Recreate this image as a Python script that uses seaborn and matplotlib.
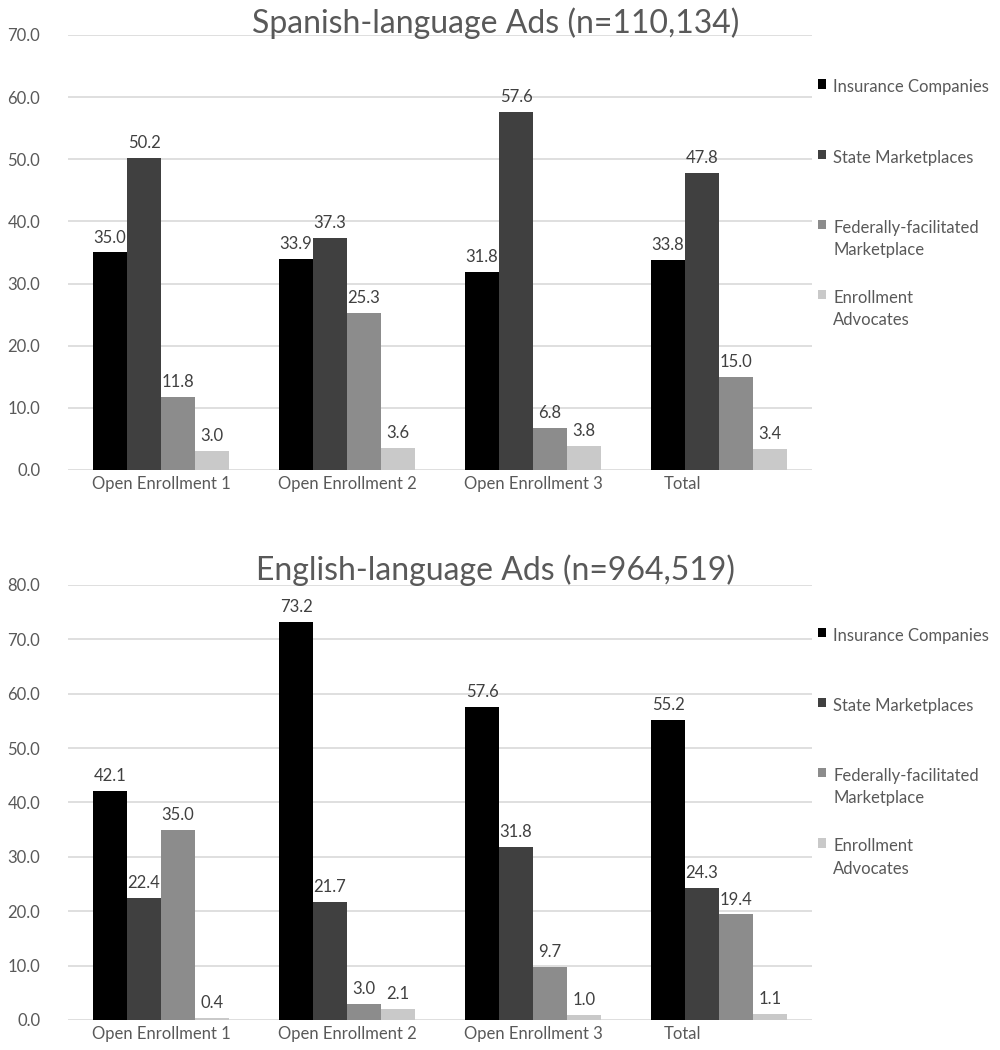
import pandas as pd
import matplotlib.pyplot as plt
import matplotlib.transforms as mtransforms
import seaborn as sns
from matplotlib.patches import Patch

sns.set_theme(style="white")
plt.rcParams['font.family'] = ['Lato', 'DejaVu Sans']

periods = ["Open Enrollment 1", "Open Enrollment 2", "Open Enrollment 3", "Total"]
sources = ["Insurance Companies", "State Marketplaces",
           "Federally-facilitated\nMarketplace", "Enrollment\nAdvocates"]

# Spanish-language ads
es_insurance = [35.0, 33.9, 31.8, 33.8]
es_state = [50.2, 37.3, 57.6, 47.8]
es_federal = [11.8, 25.3, 6.8, 15.0]
es_advocates = [3.0, 3.6, 3.8, 3.4]

# English-language ads
en_insurance = [42.1, 73.2, 57.6, 55.2]
en_state = [22.4, 21.7, 31.8, 24.3]
en_federal = [35.0, 3.0, 9.7, 19.4]
en_advocates = [0.4, 2.1, 1.0, 1.1]

colors = ["#000000", "#404040", "#8c8c8c", "#c9c9c9"]
text_gray = "#595959"


def to_long(series_list):
    rows = []
    for src, vals in zip(sources, series_list):
        for per, v in zip(periods, vals):
            rows.append({"Period": per, "Source": src, "Share": v})
    return pd.DataFrame(rows)


df_es = to_long([es_insurance, es_state, es_federal, es_advocates])
df_en = to_long([en_insurance, en_state, en_federal, en_advocates])

fig = plt.figure(figsize=(10, 10.5), dpi=100)
ax_top = fig.add_axes([0.068, 0.5524, 0.744, 0.4143])
ax_bot = fig.add_axes([0.068, 0.0286, 0.744, 0.4143])


def draw_panel(ax, df, ymax, leg_y):
    sns.barplot(data=df, x="Period", y="Share", hue="Source", order=periods,
                hue_order=sources, palette=colors, width=0.73, errorbar=None,
                saturation=1, linewidth=0, ax=ax, legend=False)
    for cont in ax.containers:
        ax.bar_label(cont, fmt="%.1f", padding=5, fontsize=12, color="#404040")
    ax.set_ylim(0, ymax)
    ax.set_xlim(-0.5, 3.5)
    ax.set_yticks(range(0, ymax + 1, 10))
    ax.set_yticklabels([f"{v:.1f}" for v in range(0, ymax + 1, 10)])
    ax.yaxis.grid(True, color="#d9d9d9", linewidth=1.2)
    ax.set_axisbelow(True)
    for s in ax.spines.values():
        s.set_visible(False)
    ax.set_xlabel("")
    ax.set_ylabel("")
    ax.tick_params(axis="both", length=0, labelsize=12, labelcolor=text_gray)
    ax.tick_params(axis="y", pad=20)
    ax.tick_params(axis="x", pad=4)
    # "Total" label sits left of its group in the original
    lab = ax.get_xticklabels()[-1]
    lab.set_transform(lab.get_transform() +
                      mtransforms.ScaledTranslation(-0.37, 0, fig.dpi_scale_trans))

    # every entry two lines tall so the pitch is even, marker on the first line
    leg_labels = [s if "\n" in s else s + "\n" for s in sources]
    handles = [Patch(facecolor=c, edgecolor="none") for c in colors]
    leg = ax.legend(handles, leg_labels, loc="upper left",
                    bbox_to_anchor=(1.008, leg_y), frameon=False, fontsize=12,
                    labelspacing=1.9, handlelength=0.5, handleheight=0.5,
                    handletextpad=0.42, borderaxespad=0, borderpad=0)
    for t in leg.get_texts():
        t.set_color(text_gray)
        t.set_linespacing(1.5)
    for col in leg._legend_handle_box.get_children():
        for item in col.get_children():
            item.align = "top"


draw_panel(ax_top, df_es, 70, 0.898)
draw_panel(ax_bot, df_en, 80, 0.902)

fig.text(0.496, 0.978, "Spanish-language Ads (n=110,134)", ha="center", va="center",
         fontsize=23, color=text_gray)
fig.text(0.496, 0.457, "English-language Ads (n=964,519)", ha="center", va="center",
         fontsize=23, color=text_gray)

fig.savefig("out.png", dpi=100)
